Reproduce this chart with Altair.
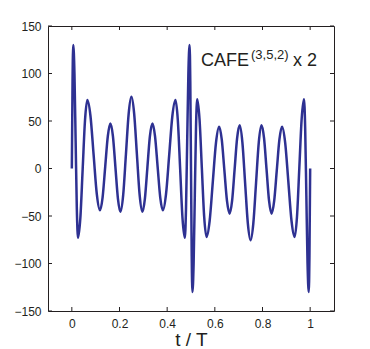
import altair as alt
import pandas as pd

# Waveform readings (t/T, amplitude)
t_vals = [
    0.000, 0.003, 0.006,
    0.011, 0.016, 0.021, 0.026,
    0.0358, 0.0455, 0.0553, 0.065,
    0.0783, 0.0915, 0.1048, 0.118,
    0.129, 0.140, 0.151, 0.162,
    0.1725, 0.183, 0.1935, 0.204,
    0.2155, 0.227, 0.2385, 0.250,
    0.2615, 0.273, 0.2845, 0.296,
    0.3065, 0.317, 0.3275, 0.338,
    0.349, 0.360, 0.371, 0.382,
    0.3952, 0.4085, 0.4217, 0.435,
    0.4447, 0.4545, 0.4642, 0.474,
    0.479, 0.484, 0.489, 0.494,
    0.497, 0.500, 0.503, 0.506,
    0.511, 0.516, 0.521, 0.526,
    0.5358, 0.5455, 0.5553, 0.565,
    0.5783, 0.5915, 0.6048, 0.618,
    0.629, 0.640, 0.651, 0.662,
    0.6725, 0.683, 0.6935, 0.704,
    0.7155, 0.727, 0.7385, 0.750,
    0.7615, 0.773, 0.7845, 0.796,
    0.8065, 0.817, 0.8275, 0.838,
    0.849, 0.860, 0.871, 0.882,
    0.8952, 0.9085, 0.9217, 0.935,
    0.9447, 0.9545, 0.9642, 0.974,
    0.979, 0.984, 0.989, 0.994,
    0.997, 1.000,
]
y_vals = [
    0, 92, 130,
    100, 28.5, -43, -73,
    -51.8, -0.5, 50.8, 72,
    55, 14, -27, -44,
    -30.6, 1.75, 34.1, 47.5,
    33.9, 1, -31.9, -45.5,
    -27.8, 15, 57.8, 75.5,
    57.8, 15, -27.8, -45.5,
    -31.9, 1, 33.9, 47.5,
    34.1, 1.75, -30.6, -44,
    -27, 14, 55, 72,
    50.8, -0.5, -51.8, -73,
    -43, 28.5, 100, 130,
    92, 0, -92, -130,
    -100, -28.5, 43, 73,
    51.8, 0.5, -50.8, -72,
    -55, -14, 27, 44,
    30.6, -1.75, -34.1, -47.5,
    -33.9, -1, 31.9, 45.5,
    27.8, -15, -57.8, -75.5,
    -57.8, -15, 27.8, 45.5,
    31.9, -1, -33.9, -47.5,
    -34.1, -1.75, 30.6, 44,
    27, -14, -55, -72,
    -50.8, 0.5, 51.8, 73,
    43, -28.5, -100, -130,
    -92, 0,
]

x_ticks = [0, 0.2, 0.4, 0.6, 0.8, 1]
y_ticks = [-150, -100, -50, 0, 50, 100, 150]

W, H = 286, 285
INK = "#231F20"
FONT = "Liberation Sans"

wave = pd.DataFrame({"t": t_vals, "v": y_vals})
xt = pd.DataFrame({"t": x_ticks})
yt = pd.DataFrame({"v": y_ticks})
one = pd.DataFrame({"k": [0]})

xscale = alt.Scale(domain=[-0.1, 1.1], nice=False, zero=False)
yscale = alt.Scale(domain=[-150, 150], nice=False, zero=False)
xaxis = alt.Axis(values=x_ticks, title="t / T",
                 labelExpr="datum.value == 0 || datum.value == 1 ? format(datum.value, 'd') : format(datum.value, '.1f')")
yaxis = alt.Axis(values=y_ticks, title=None)

line = alt.Chart(wave).mark_line(
    color="#2E3192", strokeWidth=2.5, interpolate="monotone", clip=True
).encode(
    x=alt.X("t:Q", scale=xscale, axis=xaxis),
    y=alt.Y("v:Q", scale=yscale, axis=yaxis),
)

tick_len = 4
bottom_ticks = alt.Chart(xt).mark_rule(color=INK, strokeWidth=1).encode(
    x=alt.X("t:Q", scale=xscale, axis=xaxis),
    y=alt.value(H), y2=alt.value(H - tick_len))
top_ticks = alt.Chart(xt).mark_rule(color=INK, strokeWidth=1).encode(
    x=alt.X("t:Q", scale=xscale, axis=xaxis),
    y=alt.value(0), y2=alt.value(tick_len))
left_ticks = alt.Chart(yt).mark_rule(color=INK, strokeWidth=1).encode(
    y=alt.Y("v:Q", scale=yscale, axis=yaxis),
    x=alt.value(0), x2=alt.value(tick_len))
right_ticks = alt.Chart(yt).mark_rule(color=INK, strokeWidth=1).encode(
    y=alt.Y("v:Q", scale=yscale, axis=yaxis),
    x=alt.value(W - tick_len), x2=alt.value(W))

lbl1 = alt.Chart(one).mark_text(
    text="CAFE", font=FONT, fontSize=18, color=INK, align="left", baseline="alphabetic"
).encode(x=alt.value(153), y=alt.value(40))
lbl2 = alt.Chart(one).mark_text(
    text="(3,5,2)", font=FONT, fontSize=13, color=INK, align="left", baseline="alphabetic"
).encode(x=alt.value(203), y=alt.value(33))
lbl3 = alt.Chart(one).mark_text(
    text="x 2", font=FONT, fontSize=18, color=INK, align="left", baseline="alphabetic"
).encode(x=alt.value(245), y=alt.value(40))

chart = alt.layer(
    line, bottom_ticks, top_ticks, left_ticks, right_ticks, lbl1, lbl2, lbl3
).properties(
    width=W, height=H,
    autosize=alt.AutoSizeParams(type="none"),
    padding={"left": 40, "top": 18, "right": 20, "bottom": 37},
    background="white",
).configure_view(
    stroke=INK, strokeWidth=1
).configure_axis(
    domain=False, ticks=False, grid=False,
    labelFont=FONT, labelFontSize=12, labelColor=INK, labelPadding=7,
    titleFont=FONT, titleFontSize=19, titleFontWeight="normal", titleColor=INK,
    titlePadding=1,
)

chart.save("out.html", embed_options={"renderer": "svg", "actions": False})
